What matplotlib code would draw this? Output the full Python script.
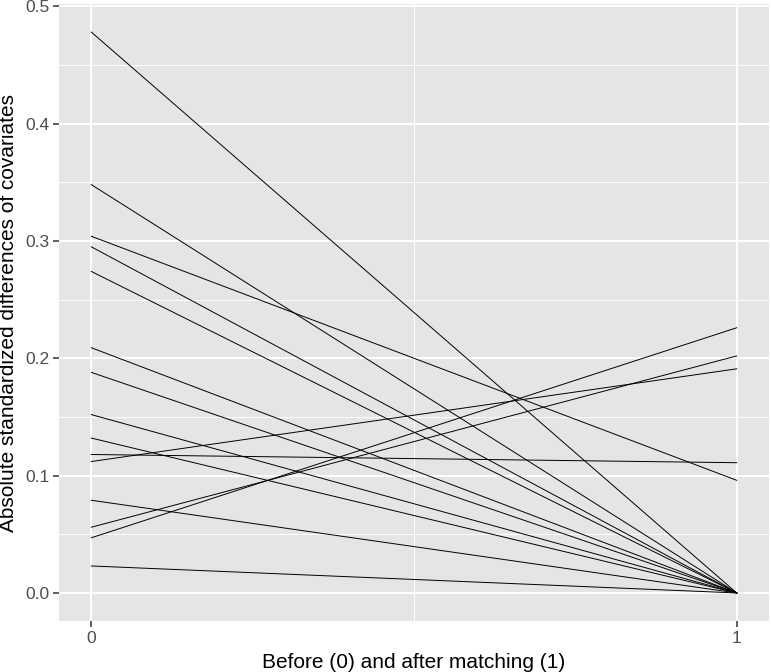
import matplotlib
matplotlib.use("Agg")
import matplotlib.pyplot as plt
from matplotlib.ticker import MultipleLocator

# standardized differences before (0) and after (1) matching
before = [0.478, 0.348, 0.304, 0.295, 0.274, 0.209, 0.188, 0.152,
          0.132, 0.118, 0.112, 0.079, 0.056, 0.047, 0.023]
after = [0.0, 0.0, 0.096, 0.0, 0.0, 0.0, 0.0, 0.0,
         0.0, 0.111, 0.191, 0.0, 0.202, 0.226, 0.0]
stage = [0, 1]

plt.rcParams['font.family'] = ['Liberation Sans', 'DejaVu Sans']

fig = plt.figure(figsize=(7.71, 6.72), dpi=100)
ax = fig.add_axes([59 / 771, 1 - 621 / 672, 710 / 771, 617 / 672])
ax.set_facecolor('#E5E5E5')
for s in ax.spines.values():
    s.set_visible(False)

for b, a in zip(before, after):
    ax.plot(stage, [b, a], color='black', lw=0.7, zorder=3)

lo, hi = 0, max(before)
pad = (hi - lo) * 0.05
ax.set_ylim(lo - pad, hi + pad)
ax.set_xlim(-0.05, 1.05)

ax.yaxis.set_major_locator(MultipleLocator(0.1))
ax.yaxis.set_minor_locator(MultipleLocator(0.05))
ax.xaxis.set_major_locator(MultipleLocator(1))
ax.xaxis.set_minor_locator(MultipleLocator(0.5))
ax.yaxis.set_major_formatter(plt.FuncFormatter(lambda v, p: f"{v:.1f}"))

ax.grid(which='major', color='white', lw=1.4, zorder=0)
ax.grid(which='minor', color='white', lw=0.7, zorder=0)
ax.set_axisbelow(True)

ax.tick_params(which='major', length=4, width=1.1, color='#333333',
               labelsize=12.5, labelcolor='#4D4D4D', pad=3)
ax.tick_params(which='minor', length=0)

ax.set_xlabel("Before (0) and after matching (1)", fontsize=15, labelpad=5)
ax.set_ylabel("Absolute standardized differences of covariates", fontsize=15, labelpad=5)

fig.savefig("out.png", dpi=100)
